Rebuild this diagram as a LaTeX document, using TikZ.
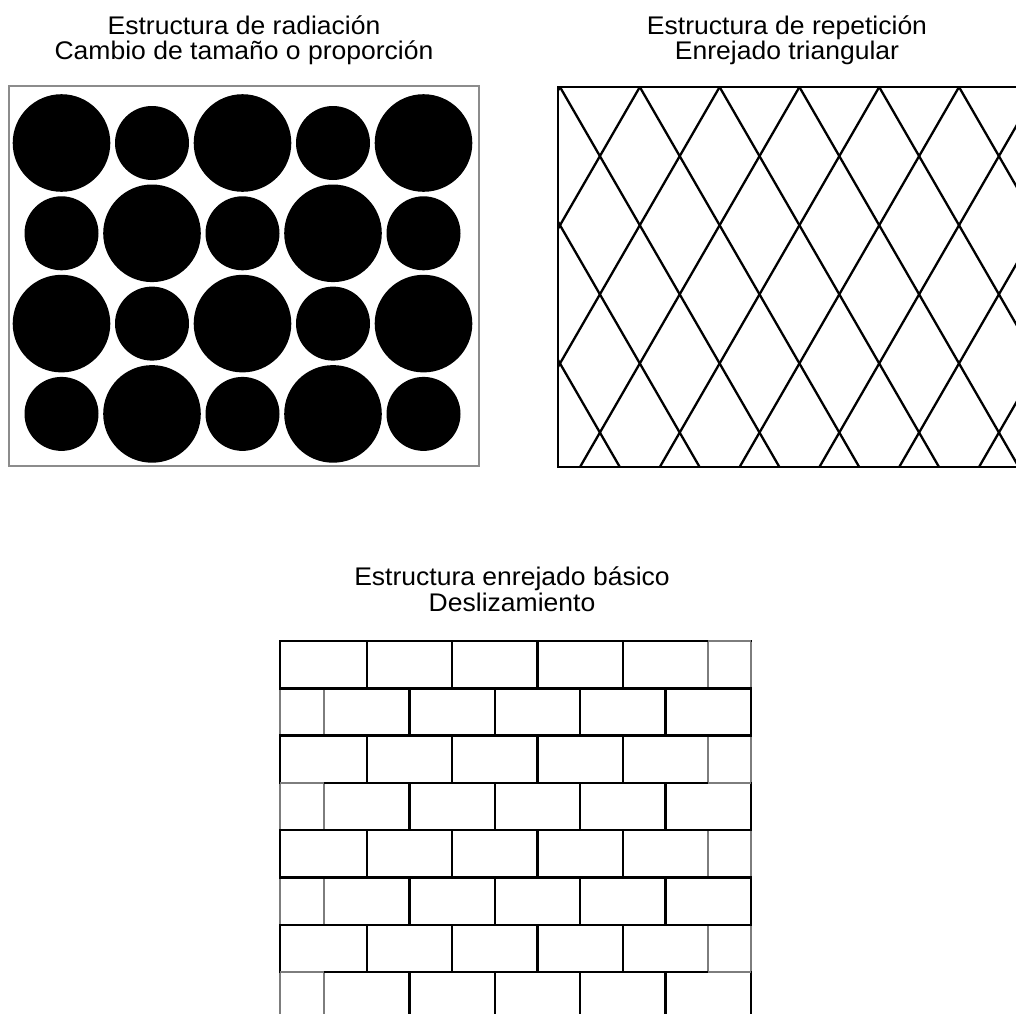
\documentclass[tikz,border=0pt]{standalone}
\usepackage{fontspec}
\setmainfont{Liberation Sans}[FakeStretch=1.04]
\usepackage{tikz}
\usetikzlibrary{positioning}
\definecolor{framegray}{RGB}{140,140,140}
\definecolor{seamgray}{RGB}{125,125,125}

\begin{document}
\begin{tikzpicture}[x=1pt,y=-1pt,
    title/.style={font=\fontsize{25.5}{24}\selectfont,anchor=base,inner sep=0pt},
    lattice/.style={line width=2.3pt,black},
    brick/.style={line width=2.4pt,black,line cap=rect},
    seam/.style={line width=2.4pt,seamgray}]
    \useasboundingbox (0,0) rectangle (1016,1013);

    % radiacion
    \node[title] (radTitle) at (244,34) {Estructura de radiación};
    \node[title] (radSub) at (244,59) {Cambio de tamaño o proporción};
    \foreach \row in {0,...,3}
      \foreach \col in {0,...,4} {
        \pgfmathsetmacro\rad{48.8-11.8*mod(\row+\col,2)}
        \fill (61.5+90.5*\col,143+90.3*\row) circle (\rad pt);
      }
    \draw[framegray,line width=1.6pt] (9,86) rectangle (479,466);

    % repeticion
    \node[title] (repTitle) at (787,34) {Estructura de repetición};
    \node[title] (repSub) at (787,59) {Enrejado triangular};
    \begin{scope}
      \clip (558,87) rectangle (1016,467);
      \foreach \k in {-3,...,9} {
        \draw[lattice] (560+79.8*\k,87) -- ++(219.4,380);
        \draw[lattice] (560+79.8*\k,87) -- ++(-219.4,380);
      }
    \end{scope}
    \draw[lattice] (558,87) rectangle (1020,467);

    % enrejado basico
    \node[title] (encTitle) at (512,585) {Estructura enrejado básico};
    \node[title] (encSub) at (512,611) {Deslizamiento};
    \foreach \r in {0,...,7} {
      \pgfmathsetmacro\yt{641+47.3*\r}
      \pgfmathsetmacro\yb{641+47.3*(\r+1)}
      \ifodd\r\relax
        \draw[seam] (280,\yt) -- (280,\yb);
        \draw[seam] (324.2,\yt) -- (324.2,\yb);
        \foreach \k in {1,...,4}
          \draw[brick] (324.2+85.3*\k,\yt) -- (324.2+85.3*\k,\yb);
        \draw[brick] (751,\yt) -- (751,\yb);
      \else
        \draw[brick] (280,\yt) -- (280,\yb);
        \foreach \k in {1,...,4}
          \draw[brick] (281.5+85.3*\k,\yt) -- (281.5+85.3*\k,\yb);
        \draw[seam] (708,\yt) -- (708,\yb);
        \draw[seam] (751,\yt) -- (751,\yb);
      \fi
    }
    \foreach \r in {0,...,7}
      \draw[brick] (280,641+47.3*\r) -- (751,641+47.3*\r);
    \draw[seam] (708,641) -- (751,641);
    \foreach \yy in {782.9,972.1} {
      \draw[seam] (280,\yy) -- (324.2,\yy);
      \draw[seam] (708,\yy) -- (751,\yy);
    }
\end{tikzpicture}
\end{document}
